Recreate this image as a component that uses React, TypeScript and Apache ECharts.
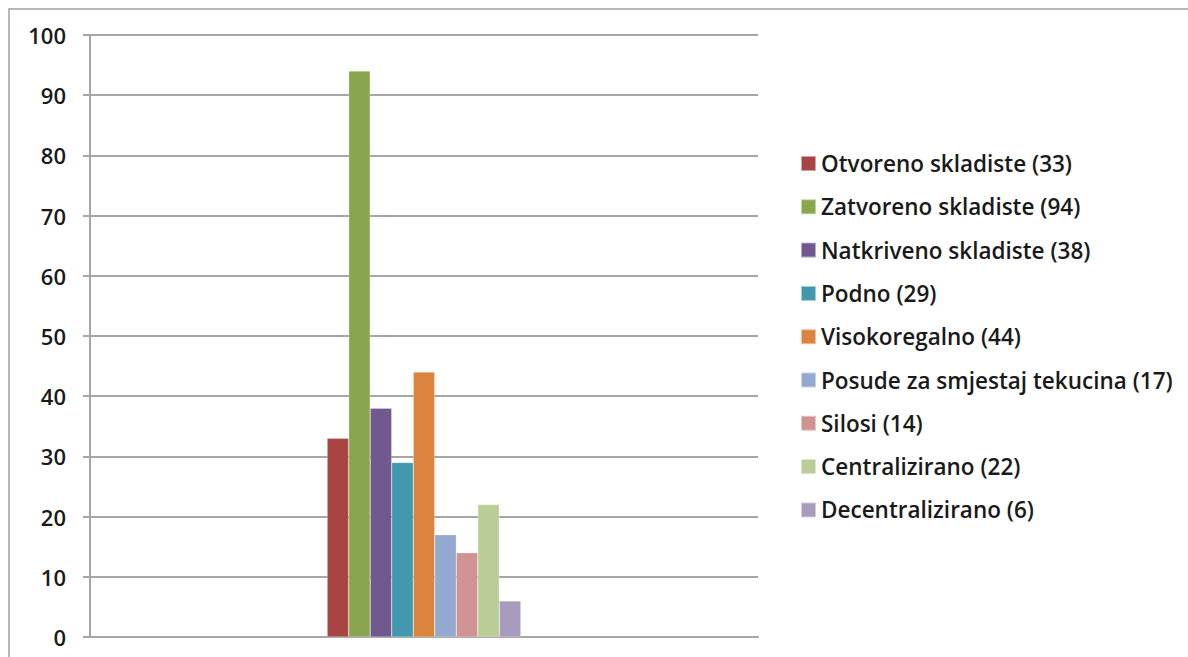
import React, { useEffect, useRef } from "react";
import * as echarts from "echarts";

const seriesNames = [
  "Otvoreno skladiste (33)",
  "Zatvoreno skladiste (94)",
  "Natkriveno skladiste (38)",
  "Podno (29)",
  "Visokoregalno (44)",
  "Posude za smjestaj tekucina (17)",
  "Silosi (14)",
  "Centralizirano (22)",
  "Decentralizirano (6)",
];
const seriesValues = [33, 94, 38, 29, 44, 17, 14, 22, 6];
const seriesColors = [
  "#A84543",
  "#89A54E",
  "#71588F",
  "#4198AF",
  "#DB843D",
  "#93A9CF",
  "#D19392",
  "#B9CD96",
  "#A99BBD",
];
const categories = [""];

export default function App() {
  const ref = useRef<HTMLDivElement>(null);
  useEffect(() => {
    document.body.style.margin = "0";
    const chart = echarts.init(ref.current!, null, { renderer: "svg" });
    const font = "'Open Sans', 'DejaVu Sans', sans-serif";
    chart.setOption({
      animation: false,
      backgroundColor: "#ffffff",
      graphic: [
        {
          type: "rect",
          shape: { x: 9, y: 9, width: 1300, height: 800 },
          style: { fill: "none", stroke: "#b8b8b8", lineWidth: 2 },
          silent: true,
        },
      ],
      grid: { left: 90, right: 430, top: 35, bottom: 20, containLabel: false },
      legend: {
        orient: "vertical",
        left: 795,
        top: 147,
        itemWidth: 15,
        itemHeight: 15,
        itemGap: 20.3,
        icon: "rect",
        textStyle: { fontSize: 22.5, fontWeight: 600, lineHeight: 20, color: "#1a1a1a", fontFamily: font },
        data: seriesNames,
      },
      xAxis: {
        type: "category",
        data: categories,
        axisLine: { show: true, lineStyle: { color: "#a6a6a6", width: 2 } },
        axisTick: { show: false },
        axisLabel: { show: false },
      },
      yAxis: {
        type: "value",
        min: 0,
        max: 100,
        interval: 10,
        axisLine: { show: true, lineStyle: { color: "#a6a6a6", width: 2 } },
        axisTick: { show: true, length: 7, lineStyle: { color: "#a6a6a6", width: 2 } },
        axisLabel: { margin: 24, fontSize: 22, fontWeight: 600, color: "#1a1a1a", fontFamily: font },
        splitLine: { show: true, lineStyle: { color: "#a6a6a6", width: 2 } },
      },
      series: seriesNames.map((name, i) => ({
        name,
        type: "bar",
        data: [seriesValues[i]],
        barGap: "0%",
        barCategoryGap: "71%",
        itemStyle: { color: seriesColors[i], borderColor: "rgba(255,255,255,0.5)", borderWidth: 0.5 },
      })),
    });
    return () => chart.dispose();
  }, []);
  return <div ref={ref} style={{ width: 1188, height: 657 }} />;
}
